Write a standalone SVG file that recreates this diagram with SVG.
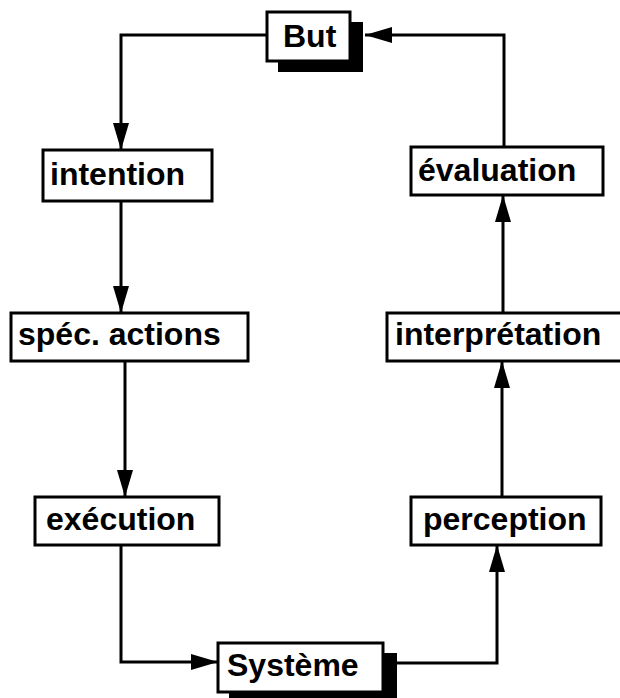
<svg xmlns="http://www.w3.org/2000/svg" width="620" height="698" viewBox="0 0 620 698">
<style>
.box{fill:#fff;stroke:#000;stroke-width:3}
.sh{fill:#000}
.lbl{font-family:"Liberation Sans",Arial,sans-serif;font-weight:bold;font-size:32px;fill:#000}
.c{fill:none;stroke:#000;stroke-width:3;marker-end:url(#ah)}
</style>
<defs>
<marker id="ah" markerUnits="userSpaceOnUse" markerWidth="28" markerHeight="16" refX="27" refY="8" orient="auto">
<path d="M0,0 L27,8 L0,16 Z" fill="#000"/>
</marker>
</defs>
<rect width="620" height="698" fill="#fff"/>
<g id="connectors">
<path class="c" d="M267,35 H121 V150"/>
<path class="c" d="M121,201 V313"/>
<path class="c" d="M125,361 V497"/>
<path class="c" d="M121,545 V662 H218"/>
<path class="c" d="M397,663 H497 V545"/>
<path class="c" d="M502,497 V361"/>
<path class="c" d="M503,313 V195"/>
<path class="c" d="M504,147 V35 H365"/>
</g>
<g id="but">
<rect class="sh" x="278" y="22" width="85" height="50"/>
<rect class="box" x="267" y="12" width="83" height="49"/>
<text class="lbl" x="283" y="47">But</text>
</g>
<g id="intention">
<rect class="box" x="43" y="150" width="169" height="51"/>
<text class="lbl" x="50" y="185">intention</text>
</g>
<g id="spec">
<rect class="box" x="11" y="313" width="237" height="48"/>
<text class="lbl" x="18" y="345">spéc. actions</text>
</g>
<g id="execution">
<rect class="box" x="35" y="497" width="184" height="48"/>
<text class="lbl" x="46" y="530">exécution</text>
</g>
<g id="systeme">
<rect class="sh" x="229" y="653" width="168" height="46"/>
<rect class="box" x="218" y="643" width="165" height="49"/>
<text class="lbl" x="227" y="676">Système</text>
</g>
<g id="perception">
<rect class="box" x="411" y="497" width="190" height="48"/>
<text class="lbl" x="423" y="530">perception</text>
</g>
<g id="interpretation">
<rect class="box" x="387" y="313" width="240" height="48"/>
<text class="lbl" x="395" y="345">interprétation</text>
</g>
<g id="evaluation">
<rect class="box" x="411" y="147" width="192" height="48"/>
<text class="lbl" x="418" y="181">évaluation</text>
</g>
</svg>
